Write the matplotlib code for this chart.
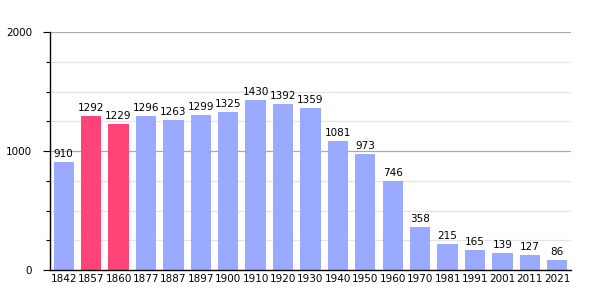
import numpy as np
import matplotlib.pyplot as plt

years = ['1842', '1857', '1860', '1877', '1887', '1897', '1900', '1910', '1920', '1930',
         '1940', '1950', '1960', '1970', '1981', '1991', '2001', '2011', '2021']
population = [910, 1292, 1229, 1296, 1263, 1299, 1325, 1430, 1392, 1359,
              1081, 973, 746, 358, 215, 165, 139, 127, 86]
highlight = ['1857', '1860']

colors = ['#ff4477' if y in highlight else '#99aaff' for y in years]

fig = plt.figure(figsize=(6, 3), dpi=100)
ax = fig.add_axes([0.0833, 0.1, 0.8683, 0.7933])

x = np.arange(len(years))
ax.bar(x, population, width=0.74, color=colors, zorder=2)
for xi, v in zip(x, population):
    ax.text(xi, v + 25, str(v), ha='center', va='bottom', fontsize=7.5, zorder=3)

ax.set_xlim(-0.5, len(years) - 0.5)
ax.set_ylim(0, 2000)
ax.set_xticks(x)
ax.set_xticklabels(years, fontsize=7.5)
ax.set_yticks([0, 1000, 2000])
ax.set_yticklabels(['0', '1000', '2000'], fontsize=7.5)
ax.set_yticks(np.arange(0, 2001, 250), minor=True)
ax.tick_params(axis='x', length=0, pad=3)
ax.tick_params(axis='y', which='major', length=5, width=0.8, pad=8)
ax.tick_params(axis='y', which='minor', length=3, width=0.8)

for v in np.arange(250, 2001, 250):
    major = v % 1000 == 0
    ax.axhline(v, color='#aaaaaa' if major else '#e4e4e4', lw=0.9, zorder=1)

for s in ['top', 'right']:
    ax.spines[s].set_visible(False)
ax.spines['left'].set_linewidth(1.0)
ax.spines['bottom'].set_linewidth(1.0)

fig.savefig('out.png', dpi=100)
